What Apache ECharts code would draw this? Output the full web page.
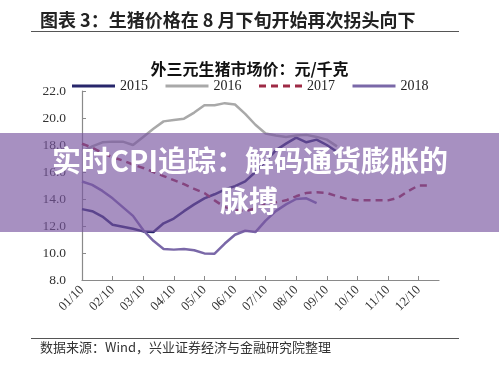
<!DOCTYPE html>
<html><head><meta charset="utf-8">
<script src="https://cdn.jsdelivr.net/npm/echarts@6/dist/echarts.min.js"></script>
<style>html,body{margin:0;padding:0;background:#fff;}#c{width:499px;height:366px;}</style>
</head><body><div id="c"></div>
<script>
// 10-day periods (旬): day 10/20/30 of each month
const categories = [];
for (let m = 1; m <= 12; m++) { const mm = (m < 10 ? '0' : '') + m; categories.push(mm + '/10', mm + '/20', mm + '/30'); }
const yTicks = [8, 10, 12, 14, 16, 18, 20, 22];
const seriesNames = ['2015', '2016', '2017', '2018'];
const v2015 = [13.25, 13.1, 12.7, 12.1, 11.95, 11.8, 11.6, 11.56, 12.2, 12.55, 13.1, 13.6, 14.05, 14.35, 14.7, 14.95, 15.3, 16.0, 16.8, 17.6, 18.1, 18.55, 18.2, 18.4, 18.0, 17.5];
const v2016 = [17.5, 17.9, 18.2, 18.25, 18.25, 18.0, 18.6, 19.2, 19.75, 19.85, 19.95, 20.4, 20.94, 20.94, 21.1, 21.0, 20.3, 19.5, 18.85, 18.7, 18.6, 18.7, 18.75, 18.6, 18.4, 17.9];
const v2017 = [18.1, 17.8, 17.4, 17.1, 16.85, 16.55, 16.3, 16.0, 15.7, 15.4, 15.1, 14.75, 14.45, 13.9, 13.4, 13.2, 13.1, 13.3, 13.6, 13.75, 13.9, 14.2, 14.45, 14.5, 14.45, 14.2, 14.0, 13.9, 13.9, 13.9, 13.9, 14.1, 14.6, 15.0, 15.0];
const v2018 = [15.3, 15.05, 14.6, 14.05, 13.4, 12.75, 11.7, 10.9, 10.3, 10.25, 10.3, 10.2, 9.97, 9.95, 10.7, 11.35, 11.65, 11.55, 12.4, 13.1, 13.6, 14.0, 14.05, 13.7];
const mainTitle = '图表 3：生猪价格在 8 月下旬开始再次拐头向下';
const subTitle = '外三元生猪市场价：元/千克';
const sourceText = '数据来源：Wind，兴业证券经济与金融研究院整理';
const bannerLine1 = '实时CPI追踪：解码通货膨胀的';
const bannerLine2 = '脉搏';

const serif = "'Liberation Serif','Times New Roman',serif";
const cjk = "'Noto Sans CJK SC',sans-serif";
const colors = ['#27266b', '#a9a9a9', '#9e2a45', '#7a68a8'];
const values = [v2015, v2016, v2017, v2018];

const chart = echarts.init(document.getElementById('c'), null, {renderer: 'canvas'});
chart.setOption({
  backgroundColor: '#fff',
  animation: false,
  grid: {left: 82, right: 60, top: 91, bottom: 86, containLabel: false},
  legend: {
    top: 74, left: 'center', itemWidth: 43, itemHeight: 14, itemGap: 16,
    itemStyle: {opacity: 0},
    lineStyle: {width: 3},
    textStyle: {fontFamily: serif, fontSize: 14, color: '#222'},
    data: seriesNames
  },
  xAxis: {
    type: 'category', data: categories, boundaryGap: false,
    axisLine: {lineStyle: {color: '#8a8a8a', width: 1.2}},
    axisTick: {inside: true, length: 4, interval: 2, lineStyle: {color: '#8a8a8a'}},
    axisLabel: {interval: 2, rotate: 45, fontFamily: serif, fontSize: 13, color: '#333', margin: 8},
    splitLine: {show: false}
  },
  yAxis: {
    type: 'value', min: yTicks[0], max: yTicks[yTicks.length - 1], interval: 2,
    axisLine: {show: true, lineStyle: {color: '#8a8a8a', width: 1.2}},
    axisTick: {show: true, inside: true, length: 4, lineStyle: {color: '#8a8a8a'}},
    axisLabel: {fontFamily: serif, fontSize: 13.5, color: '#333', margin: 16, formatter: v => v.toFixed(1)},
    splitLine: {show: false}
  },
  series: seriesNames.map((n, i) => ({
    name: n, type: 'line', data: values[i], symbol: 'none', smooth: false,
    lineStyle: {color: colors[i], width: 2.5, type: i === 2 ? [7, 5] : 'solid'},
    itemStyle: {color: colors[i]}, z: i === 3 ? 3 : 2
  })),
  graphic: {elements: [
    {type: 'text', left: 40, top: 11, z: 10, style: {text: mainTitle, font: "bold 18px " + cjk, fill: '#222'}},
    {type: 'line', z: 10, shape: {x1: 31, y1: 31.5, x2: 459, y2: 31.5}, style: {stroke: '#555', lineWidth: 1}},
    {type: 'text', left: 'center', top: 61, z: 10, style: {text: subTitle, font: "bold 16px " + cjk, fill: '#111'}},
    {type: 'line', z: 10, shape: {x1: 31, y1: 338.5, x2: 459, y2: 338.5}, style: {stroke: '#555', lineWidth: 1}},
    {type: 'text', left: 40, top: 341, z: 10, style: {text: sourceText, font: "13px " + cjk, fill: '#333'}},
    {type: 'rect', z: 100, shape: {x: 0, y: 133, width: 499, height: 99}, style: {fill: 'rgba(120,85,160,0.65)'}},
    {type: 'text', z: 101, x: 250, y: 161, style: {text: bannerLine1, font: "bold 29px " + cjk, fill: '#fff', align: 'center', verticalAlign: 'middle', shadowColor: 'rgba(0,0,0,0.35)', shadowBlur: 3}},
    {type: 'text', z: 101, x: 249, y: 201, style: {text: bannerLine2, font: "bold 29px " + cjk, fill: '#fff', align: 'center', verticalAlign: 'middle', shadowColor: 'rgba(0,0,0,0.35)', shadowBlur: 3}}
  ]}
});
</script></body></html>
